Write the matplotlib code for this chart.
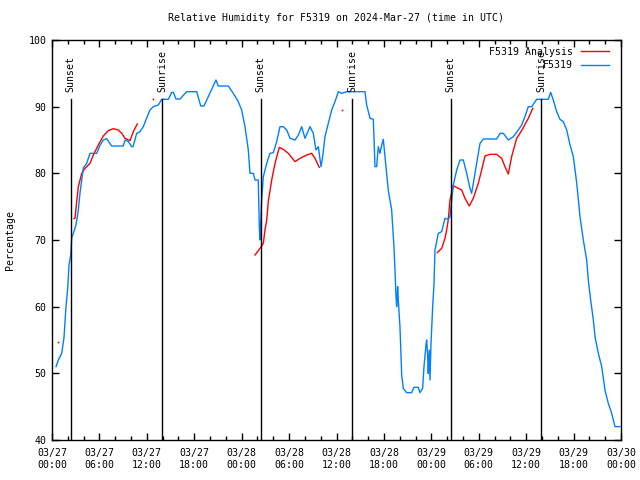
import numpy as np
import pandas as pd
import matplotlib
matplotlib.use('Agg')
import matplotlib.pyplot as plt
import matplotlib.dates as mdates

# hours after 2024-03-27 00:00 UTC
obs_hours = [0.51, 0.8, 1.23, 1.52, 1.77, 1.99, 2.15, 2.37, 2.49, 2.7, 3.04, 3.33, 3.54, 3.96,
             4.39, 4.81, 5.66, 6.07, 6.49, 6.92, 7.55, 9.02, 9.24, 9.65, 10.08, 10.25, 10.72,
             11.13, 11.55, 11.98, 12.4, 12.82, 13.45, 13.88, 14.72, 15.15, 15.35, 15.69, 16.2,
             17.04, 18.31, 18.82, 19.23, 19.78, 20.41, 20.75, 21.04, 22.31, 22.94, 23.57, 24.0,
             24.42, 24.84, 25.05, 25.47, 25.69, 26.1, 26.23, 26.32, 26.53, 26.74, 27.17, 27.58,
             28.0, 28.43, 28.85, 29.27, 29.7, 30.12, 30.75, 31.17, 31.6, 32.01, 32.65, 33.06,
             33.4, 33.7, 34.04, 34.25, 34.54, 34.96, 35.39, 35.81, 36.23, 36.66, 37.29, 39.6,
             39.82, 40.24, 40.66, 40.87, 41.08, 41.29, 41.5, 41.72, 41.92, 42.05, 42.26, 42.55,
             42.98, 43.27, 43.4, 43.53, 43.61, 43.74, 43.82, 44.03, 44.25, 44.45, 44.88, 45.51,
             45.8, 46.35, 46.56, 46.9, 47.07, 47.32, 47.41, 47.54, 47.61, 47.74, 47.83, 47.96,
             48.17, 48.34, 48.46, 48.88, 49.31, 49.73, 50.14, 50.36, 50.58, 50.78, 51.21, 51.63,
             52.05, 52.47, 52.89, 53.1, 53.31, 53.74, 54.16, 54.58, 56.27, 56.69, 57.11, 57.74,
             58.38, 59.0, 59.43, 59.85, 60.27, 60.7, 61.33, 62.8, 63.1, 63.43, 63.86, 64.28,
             64.7, 65.13, 65.55, 65.97, 66.18, 66.4, 66.6, 66.81, 67.23, 67.66, 67.86, 68.16,
             68.5, 68.71, 69.13, 69.56, 69.97, 70.39, 70.82, 71.24, 71.87]
obs_rh = [51.0, 52, 53, 55.4, 60, 62.8, 66.25, 67.75, 70.3, 71, 72.3, 74.5, 77, 80.8,
          81.5, 83, 83, 84.2, 85, 85.2, 84.1, 84.1, 85, 84.8, 84, 84, 86,
          86.25, 87, 88.3, 89.5, 90, 90.25, 91.1, 91.1, 92.15, 92.15, 91.15, 91.15,
          92.25, 92.25, 90.1, 90.1, 91.5, 93.1, 94, 93.1, 93.1, 92, 90.75, 89.5,
          87, 83.5, 80, 80, 79, 79, 72, 70, 76, 79.5, 81.5, 83,
          83.1, 84.75, 87, 87, 86.5, 85.25, 85, 85.75, 87, 85.25, 87, 86,
          83.5, 84, 81, 82.5, 85.5, 87.5, 89.5, 90.75, 92.25, 92, 92.25, 92.25,
          90.25, 88.25, 88.1, 81, 81, 84, 83, 84.25, 85.1, 83.5, 81, 77.5,
          74.5, 69, 65.5, 61.5, 60, 63, 61, 57, 49.75, 47.75, 47.1, 47.1,
          47.9, 47.9, 47.1, 47.75, 51, 54.25, 55, 52.5, 50, 53.5, 49, 54.5,
          60, 63.5, 68.5, 71, 71.25, 73.25, 73.1, 73.5, 76, 78.25, 80.5, 82,
          82, 80, 77.75, 77, 78.5, 81.5, 84.5, 85.15, 85.15, 86, 86, 85,
          85.5, 86.5, 87.25, 88.5, 90, 90, 91.1, 91.1, 92.15, 91, 89.25, 88.1,
          87.75, 86.5, 84.25, 82.5, 80.5, 78.5, 76, 73.5, 70, 67, 64, 61,
          58, 55.5, 53, 51, 47.5, 45.5, 44, 42, 42]

# analysis, three pieces split by NaN
ana_hours = [2.78, 2.91, 3.33, 3.76, 4.18, 4.81, 5.23, 5.86, 6.49, 7.12, 7.76, 8.39, 8.82,
             9.24, 9.87, 10.29, 10.79, 18.0,
             25.69, 26.32, 26.74, 26.95, 27.17, 27.37, 27.8, 28.22, 28.76, 29.27, 29.9,
             30.75, 31.38, 32.23, 32.86, 33.28, 33.82, 40.0,
             48.75, 49.31, 49.73, 49.94, 50.14, 50.36, 50.78, 51.42, 51.84, 52.26, 52.8,
             53.31, 53.94, 54.37, 54.79, 55.42, 56.27, 56.9, 57.32, 57.74, 58.16, 58.8,
             59.47, 60.27, 60.83]
ana_rh = [73.2, 73.3, 78, 80, 80.75, 81.5, 82.75, 84.25, 85.6, 86.4, 86.7, 86.5, 86,
          85.25, 84.9, 86.25, 87.4, np.nan,
          67.75, 68.75, 69.5, 71.5, 73, 75.8, 79, 81.5, 83.9, 83.6, 83,
          81.75, 82.25, 82.75, 83, 82.25, 80.9, np.nan,
          68.1, 68.75, 70.25, 71.5, 73, 76, 78.15, 77.75, 77.5, 76.25, 75.1,
          76.25, 78.5, 80.5, 82.6, 82.85, 82.85, 82.25, 81, 79.9, 82.5, 85.25,
          86.5, 88.25, 89.75]

# lone analysis values
dot_hours = [0.8, 12.8, 36.7]
dot_rh = [54.75, 91.1, 89.45]

sun_times = ['2024-03-27 02:22', '2024-03-27 13:58', '2024-03-28 02:24',
             '2024-03-28 14:00', '2024-03-29 02:27', '2024-03-29 13:55']
sun_labels = ['Sunset', 'Sunrise', 'Sunset', 'Sunrise', 'Sunset', 'Sunrise']

start = pd.Timestamp('2024-03-27 00:00')
def to_time(h):
    return start + pd.to_timedelta(np.array(h, dtype=float), unit='h')

plt.rcParams['font.family'] = 'DejaVu Sans Mono'
plt.rcParams['font.size'] = 7.1

fig = plt.figure(figsize=(6.4, 4.8), dpi=100)
ax = fig.add_axes([52/640, 40/480, 569/640, 400/480])

ax.plot(to_time(ana_hours), ana_rh, color='#ff0000', lw=1, label='F5319 Analysis')
ax.plot(to_time(obs_hours), obs_rh, color='#0080ff', lw=1, label='F5319')
ax.plot(to_time(dot_hours), dot_rh, ls='none', marker='s', ms=1.2, color='#ff0000', mew=0)

# sunrise / sunset markers
for t, lab in zip(sun_times, sun_labels):
    tt = pd.Timestamp(t)
    ax.plot([tt, tt], [40, 91.2], color='black', lw=1)
    ax.text(tt, 92.2, lab, rotation=90, ha='center', va='bottom')

ax.set_xlim(start, start + pd.Timedelta(hours=72))
ax.set_ylim(40, 100)
ax.set_yticks(np.arange(40, 101, 10))
ax.xaxis.set_major_locator(mdates.HourLocator(byhour=[0, 6, 12, 18]))
ax.xaxis.set_major_formatter(mdates.DateFormatter('%m/%d\n%H:%M'))
ax.xaxis.set_minor_locator(mdates.HourLocator(byhour=range(0, 24, 2)))
ax.tick_params(which='both', direction='in', top=True, right=True, width=1)
ax.tick_params(which='major', length=5, pad=4)
ax.tick_params(axis='x', which='major', pad=6)
ax.tick_params(which='minor', length=3)
for s in ax.spines.values():
    s.set_linewidth(1)

ax.set_title('Relative Humidity for F5319 on 2024-Mar-27 (time in UTC)', fontsize=7.1, pad=14)
ax.set_ylabel('Percentage', labelpad=10)

ax.legend(loc='upper right', bbox_to_anchor=(1 - 5/569, 1), frameon=False, markerfirst=False,
          handlelength=2.9, borderaxespad=0.3, labelspacing=0.35)

fig.savefig('out.png', dpi=100)
